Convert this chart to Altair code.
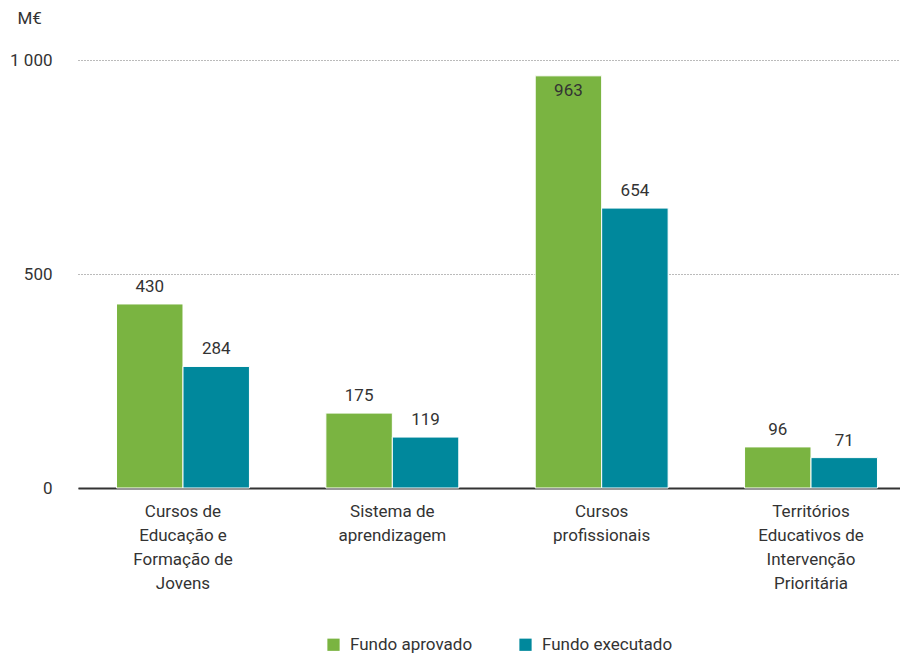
import altair as alt
import pandas as pd

categories = [
    "Cursos de\nEducação e\nFormação de\nJovens",
    "Sistema de\naprendizagem",
    "Cursos\nprofissionais",
    "Territórios\nEducativos de\nIntervenção\nPrioritária",
]
series = ["Fundo aprovado", "Fundo executado"]
aprovado = [430, 175, 963, 96]
executado = [284, 119, 654, 71]
colors = ["#7AB441", "#00889C"]

rows = []
for c, a, e in zip(categories, aprovado, executado):
    rows.append({"cat": c, "serie": series[0], "valor": a})
    rows.append({"cat": c, "serie": series[1], "valor": e})
df = pd.DataFrame(rows)

FONT = "Roboto"
TXT = "#333333"
FS = 17

x = alt.X("cat:N", sort=categories, title=None,
          scale=alt.Scale(paddingInner=0.365, paddingOuter=0.184, range=[0, 838]),
          axis=alt.Axis(labelExpr="split(datum.label, '\\n')", labelAngle=0,
                        labelFontSize=FS, labelColor=TXT, labelFont=FONT,
                        labelLineHeight=24, labelPadding=15, ticks=False,
                        domainColor="#333333", domainWidth=2, labelBaseline="top"))
xo = alt.XOffset("serie:N", sort=series)
y = alt.Y("valor:Q", scale=alt.Scale(domain=[0, 1000]),
          axis=alt.Axis(values=[0, 500, 1000], title="M€", titleAngle=0,
                        titleX=-61, titleY=-33, titleAlign="left",
                        titleFontSize=FS, titleFontWeight="normal", titleColor=TXT,
                        titleFont=FONT,
                        labelExpr="replace(format(datum.value, ','), ',', ' ')",
                        labelFontSize=FS, labelColor=TXT, labelFont=FONT,
                        labelPadding=26, ticks=False, domain=False,
                        gridDash=[1, 2], gridColor="#777777", gridWidth=1))

base = alt.Chart(df)

bars = base.mark_bar(stroke="white", strokeWidth=1).encode(
    x=x, xOffset=xo, y=y,
    color=alt.Color("serie:N", sort=series,
                    scale=alt.Scale(domain=series, range=colors),
                    legend=alt.Legend(title=None, orient="none", direction="horizontal",
                                      legendX=247, legendY=576,
                                      symbolType="square", symbolSize=150,
                                      symbolStrokeWidth=0, labelFontSize=FS,
                                      labelColor=TXT, labelFont=FONT,
                                      columnPadding=44, labelOffset=8)),
)

lab_out = base.mark_text(baseline="bottom", dy=-8, fontSize=FS, color=TXT, font=FONT).encode(
    x=x, xOffset=xo, y=y, text="valor:Q"
).transform_filter("datum.valor < 900")

lab_in = base.mark_text(baseline="top", dy=7, fontSize=FS, color=TXT, font=FONT).encode(
    x=x, xOffset=xo, y=y, text="valor:Q"
).transform_filter("datum.valor >= 900")

chart = alt.layer(bars, lab_out, lab_in).properties(
    width=822, height=428,
    autosize=alt.AutoSizeParams(type="none"),
    padding={"left": 70, "top": 52, "right": 0, "bottom": 165},
).configure_view(stroke=None).configure_axisX(grid=False)

chart.save("out.html", embed_options={"renderer": "svg", "actions": False})
